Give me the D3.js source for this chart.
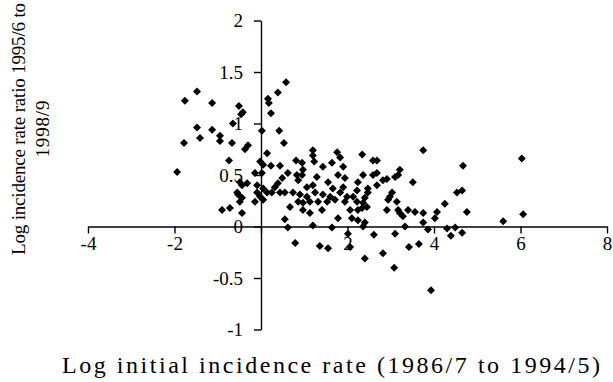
<!DOCTYPE html>
<html><head><meta charset="utf-8">
<script src="https://cdn.jsdelivr.net/npm/d3@7"></script>
<style>body{margin:0;background:#fff}svg{display:block}</style>
</head><body>
<svg id="c" width="613" height="382"></svg>
<script>
// Log initial incidence rate (x) and log incidence rate ratio (y)
const xVals = [
-1.94,-1.48,-1.76,-1.13,-0.51,-0.42,-0.46,-0.65,-1.48,-1.13,-1.41,-0.95,-0.95,-1.78,-0.67,-0.30,-0.37,-0.74,-0.14,-0.49,
-0.44,-0.32,-0.55,-0.53,-0.44,-0.49,-0.09,-0.09,-0.02,-0.14,-0.90,-0.72,-0.44,-0.02,0.02,0.02,0.05,0.05,0.05,0.58,
0.39,0.16,0.18,0.23,0.42,0.53,0.14,1.20,1.20,1.23,0.81,0.95,1.76,1.83,1.64,2.34,0.23,0.44,1.43,1.90,
0.97,0.95,0.62,0.49,0.39,0.32,0.83,0.86,1.29,1.55,1.78,1.94,2.24,2.36,1.06,1.20,1.66,1.90,2.22,0.25,
0.44,0.55,0.74,0.90,1.06,1.25,1.43,1.60,1.83,1.99,2.13,0.86,0.97,1.13,1.32,1.53,1.71,1.94,2.22,2.40,
0.97,1.13,1.41,0.67,2.06,2.24,0.55,1.20,1.64,1.78,2.10,2.24,2.40,0.62,2.01,0.79,1.36,1.55,2.06,0.14,
3.75,2.59,2.68,2.59,2.68,3.21,3.17,3.10,2.82,2.91,2.68,3.51,4.67,4.65,4.53,2.47,2.47,3.03,2.98,2.94,
4.25,2.36,2.45,2.34,3.14,2.91,3.17,3.21,3.28,3.40,3.56,3.75,4.07,4.02,4.76,3.75,2.36,3.33,3.86,4.30,
4.49,4.65,4.39,2.61,3.10,3.42,3.65,2.40,2.82,3.08,3.93,6.03,5.60,6.06
];
const yVals = [
0.53,1.31,1.22,1.20,1.17,1.11,1.09,1.00,0.96,0.94,0.86,0.88,0.83,0.81,0.81,0.79,0.75,0.64,0.52,0.43,
0.40,0.42,0.33,0.31,0.28,0.24,0.40,0.33,0.29,0.24,0.16,0.18,0.13,0.63,0.93,0.52,0.37,0.26,0.60,1.40,
1.30,1.24,1.20,1.10,0.93,0.81,0.71,0.74,0.69,0.63,0.64,0.62,0.72,0.67,0.62,0.70,0.59,0.59,0.58,0.58,
0.55,0.50,0.52,0.47,0.42,0.38,0.50,0.45,0.48,0.43,0.50,0.47,0.43,0.50,0.38,0.40,0.37,0.38,0.35,0.33,
0.33,0.33,0.33,0.31,0.29,0.33,0.31,0.29,0.33,0.29,0.29,0.24,0.23,0.24,0.24,0.24,0.26,0.24,0.24,0.28,
0.16,0.13,0.16,0.19,0.16,0.16,0.07,0.01,-0.01,0.08,0.08,0.06,0.04,-0.01,-0.07,-0.16,-0.19,-0.21,-0.20,0.33,
0.74,0.64,0.64,0.50,0.52,0.55,0.50,0.48,0.45,0.46,0.40,0.43,0.59,0.35,0.33,0.37,0.33,0.33,0.29,0.26,
0.22,0.23,0.19,0.18,0.24,0.16,0.16,0.13,0.10,0.16,0.14,0.13,0.14,0.08,0.14,0.04,0.00,0.00,-0.03,-0.02,
-0.01,-0.06,-0.09,-0.08,-0.07,-0.20,-0.17,-0.31,-0.26,-0.40,-0.62,0.66,0.05,0.12
];
const xTicks = [-4,-2,0,2,4,6,8];
const xTickLabels = ["-4","-2","","2","4","6","8"];
const yTicks = [-1,-0.5,0,0.5,1,1.5,2];
const yTickLabels = ["-1","-0.5","0","0.5","1","1.5","2"];
const xTitle = "Log initial incidence rate (1986/7 to 1994/5)";
const yTitleLines = ["Log incidence rate ratio 1995/6 to","1998/9"];

const svg = d3.select("#c");
const FONT = "'Liberation Serif','Times New Roman',serif";
const x = d3.scaleLinear().domain([-4,8]).range([88,607]);
const y = d3.scaleLinear().domain([-1,2]).range([329.5,20.5]);

const xAxis = d3.axisBottom(x).tickValues(xTicks)
  .tickFormat((d,i)=>xTickLabels[i]).tickSizeInner(7).tickSizeOuter(0).tickPadding(3);
const yAxis = d3.axisLeft(y).tickValues(yTicks)
  .tickFormat((d,i)=>yTickLabels[i]).tickSizeInner(7).tickSizeOuter(0).tickPadding(11);

const gx = svg.append("g").attr("transform",`translate(0,${y(0)})`).call(xAxis);
const gy = svg.append("g").attr("transform",`translate(${x(0)},0)`).call(yAxis);
[gx,gy].forEach(g=>{
  g.selectAll("path,line").attr("stroke","#000").attr("stroke-width",1.4);
  g.selectAll("text").attr("fill","#000").attr("font-family",FONT).attr("font-size",19);
});

const pts = xVals.map((v,i)=>({x:v,y:yVals[i]}));
svg.append("g").selectAll("path").data(pts).join("path")
  .attr("d","M0,-4L4,0L0,4L-4,0Z")
  .attr("transform",d=>`translate(${x(d.x)},${y(d.y)})`)
  .attr("fill","#000");

svg.append("text").attr("x",331).attr("y",373).attr("text-anchor","middle")
  .attr("textLength",538).attr("lengthAdjust","spacing")
  .attr("font-family",FONT).attr("font-size",24).attr("fill","#000").text(xTitle);

svg.append("text").attr("transform","translate(25,129) rotate(-90)").attr("text-anchor","middle")
  .attr("textLength",252).attr("lengthAdjust","spacing")
  .attr("font-family",FONT).attr("font-size",19).attr("fill","#000").text(yTitleLines[0]);
svg.append("text").attr("transform","translate(49,129) rotate(-90)").attr("text-anchor","middle")
  .attr("textLength",57).attr("lengthAdjust","spacing")
  .attr("font-family",FONT).attr("font-size",19).attr("fill","#000").text(yTitleLines[1]);
</script>
</body></html>
